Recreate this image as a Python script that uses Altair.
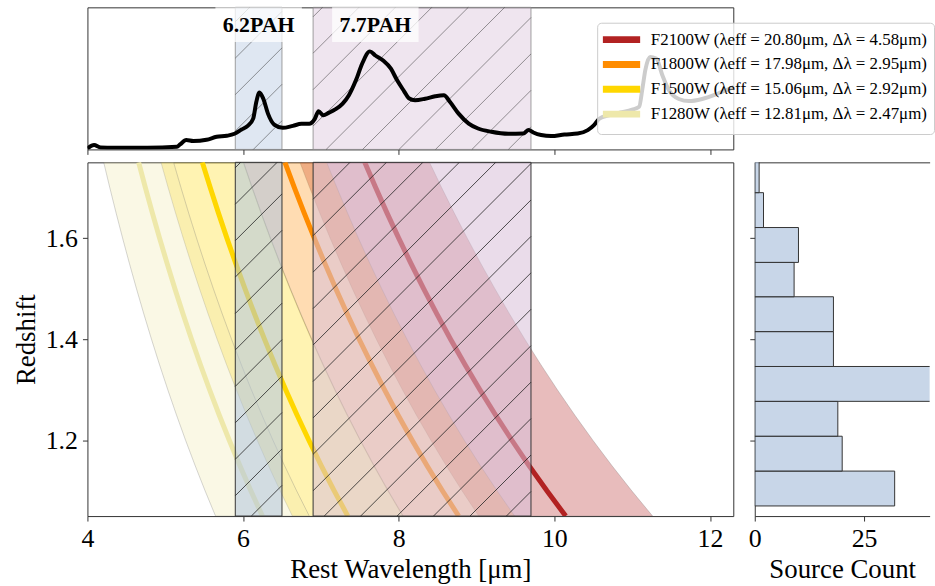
import math
import altair as alt
import pandas as pd

# ---------------- data ----------------
filter_names = ["F2100W", "F1800W", "F1500W", "F1280W"]
lam_eff = [20.80, 17.98, 15.06, 12.81]
dlam = [4.58, 2.95, 2.92, 2.47]
filter_colors = ["#b22222", "#ff8c00", "#ffd700", "#eee8aa"]

z_grid = [1.05, 1.10, 1.15, 1.20, 1.25, 1.30, 1.35, 1.40, 1.45, 1.50,
          1.55, 1.60, 1.65, 1.70, 1.75]

pah_names = ["6.2PAH", "7.7PAH"]
pah_lo = [5.9, 6.9]
pah_hi = [6.5, 9.7]
pah_center = [6.2, 7.7]
pah_colors = ["lightsteelblue", "thistle"]

spec_wave = [4.00, 4.085, 4.17, 4.34, 4.77, 5.15, 5.19, 5.27, 5.36, 5.53, 5.66, 5.79,
             5.89, 5.98, 6.06, 6.13, 6.17, 6.21, 6.26, 6.32, 6.40, 6.51, 6.64, 6.75,
             6.85, 6.92, 6.97, 7.03, 7.10, 7.19, 7.28, 7.36, 7.45, 7.53, 7.63, 7.70,
             7.80, 7.90, 7.98, 8.07, 8.13, 8.21, 8.34, 8.47, 8.58, 8.66, 8.77, 8.90,
             9.02, 9.19, 9.41, 9.60, 9.67, 9.73, 9.83, 9.96, 10.13, 10.30, 10.43, 10.51,
             10.58, 10.70, 10.85, 11.00, 11.09, 11.13, 11.17, 11.23, 11.31, 11.39, 11.47,
             11.60, 11.73, 11.90, 12.09, 12.31]
spec_flux = [0.007, 0.031, 0.014, 0.012, 0.012, 0.019, 0.035, 0.066, 0.059, 0.068, 0.089, 0.096,
             0.110, 0.140, 0.166, 0.217, 0.334, 0.400, 0.357, 0.252, 0.175, 0.152, 0.166, 0.180,
             0.180, 0.213, 0.269, 0.241, 0.257, 0.283, 0.322, 0.381, 0.486, 0.603, 0.690, 0.661,
             0.626, 0.568, 0.486, 0.409, 0.360, 0.346, 0.357, 0.374, 0.381, 0.334, 0.252, 0.182,
             0.147, 0.124, 0.110, 0.112, 0.136, 0.119, 0.101, 0.094, 0.105, 0.112, 0.136, 0.171,
             0.217, 0.240, 0.260, 0.280, 0.300, 0.420, 0.560, 0.650, 0.640, 0.520, 0.420,
             0.355, 0.340, 0.355, 0.390, 0.440]

hist_lo = [1.070, 1.139, 1.208, 1.277, 1.346, 1.415, 1.484, 1.552, 1.621, 1.690]
hist_hi = [1.139, 1.208, 1.277, 1.346, 1.415, 1.484, 1.552, 1.621, 1.690, 1.759]
hist_count = [32, 20, 19, 41, 18, 18, 9, 10, 2, 1]

# ---------------- layout constants ----------------
X_DOM = [4.0, 12.3]
Z_DOM = [1.05, 1.75]
F_DOM = [0.0, 1.0]
W_MAIN, H_MAIN, H_TOP, W_HIST = 650, 356, 143, 176
SERIF = "Liberation Serif"

labels = [f"{n} (λeff = {l:.2f}μm, Δλ = {d:.2f}μm)" for n, l, d in zip(filter_names, lam_eff, dlam)]

rows = []
for lab, le, dl in zip(labels, lam_eff, dlam):
    for z in z_grid:
        rows.append(dict(label=lab, z=z, lam=le / (1 + z),
                         lo=(le - dl / 2) / (1 + z), hi=(le + dl / 2) / (1 + z)))
filt_df = pd.DataFrame(rows)

pah_df = pd.DataFrame(dict(pah=pah_names, lo=pah_lo, hi=pah_hi, center=pah_center))
spec_df = pd.DataFrame(dict(wave=spec_wave, flux=spec_flux))
hist_df = pd.DataFrame(dict(z0=hist_lo, z1=hist_hi, count=hist_count))

# hatch ("/") segments, 45 degrees in pixel space, common phase across the figure
HATCH = 36.67
PHASE = 695.0


def hatch_segments(dom_y, W, H, ox, oy):
    sx = W / (X_DOM[1] - X_DOM[0])
    sy = H / (dom_y[1] - dom_y[0])
    out = []
    for lo, hi in zip(pah_lo, pah_hi):
        X0 = (lo - X_DOM[0]) * sx
        X1 = (hi - X_DOM[0]) * sx
        kmin = math.floor((X0 - PHASE + ox + oy) / HATCH) - 1
        kmax = math.ceil((X1 + H - PHASE + ox + oy) / HATCH) + 1
        for k in range(kmin, kmax + 1):
            c = PHASE + k * HATCH - ox - oy
            xa, xb = max(X0, c - H), min(X1, c)
            if xb - xa > 0.5:
                out.append(dict(hx=X_DOM[0] + xa / sx, hy=dom_y[1] - (c - xa) / sy,
                                hx2=X_DOM[0] + xb / sx, hy2=dom_y[1] - (c - xb) / sy))
    return pd.DataFrame(out)


hatch_main = hatch_segments(Z_DOM, W_MAIN, H_MAIN, 86.7, 160.7)
hatch_top = hatch_segments(F_DOM, W_MAIN, H_TOP, 86.7, 5.0)

xscale = alt.Scale(domain=X_DOM, nice=False, zero=False)
zscale = alt.Scale(domain=Z_DOM, nice=False, zero=False)
fscale = alt.Scale(domain=F_DOM, nice=False, zero=False)
fill_scale = alt.Scale(domain=labels + pah_names, range=filter_colors + pah_colors)

ax_main_x = alt.Axis(values=[4, 6, 8, 10, 12], format="d", title="Rest Wavelength [μm]",
                     domain=False, labelFlush=False)
ax_main_y = alt.Axis(values=[1.2, 1.4, 1.6], format=".1f", title="Redshift", domain=False)
ax_top_x = alt.Axis(values=[4, 6, 8, 10, 12], labels=False, title=None, domain=False)

# ---------------- top panel ----------------
top_regions = alt.Chart(pah_df).mark_rect(fillOpacity=0.4, stroke="#888888", strokeWidth=1,
                                           strokeOpacity=0.8).encode(
    x=alt.X("lo:Q", scale=xscale, axis=ax_top_x),
    x2="hi:Q",
    fill=alt.Fill("pah:N", scale=fill_scale, legend=None),
)
top_hatch = alt.Chart(hatch_top).mark_rule(color="#333333", strokeWidth=1, opacity=0.5).encode(
    x=alt.X("hx:Q", scale=xscale, axis=ax_top_x), x2="hx2:Q",
    y=alt.Y("hy:Q", scale=fscale, axis=None), y2="hy2:Q",
)
box_path = "M-1,-0.402H1V0.402H-1Z"
top_boxes = alt.Chart(pah_df).mark_point(shape=box_path, size=87 * 87, filled=True, fill="white",
                                         opacity=0.75, strokeWidth=0).encode(
    x=alt.X("center:Q", scale=xscale, axis=ax_top_x), y=alt.value(17.5)
)
top_text = alt.Chart(pah_df).mark_text(font=SERIF, fontSize=22, fontWeight="bold",
                                       baseline="alphabetic", align="center", color="black").encode(
    x=alt.X("center:Q", scale=xscale, axis=ax_top_x), y=alt.value(25), text="pah:N"
)
top_line = alt.Chart(spec_df).mark_line(color="black", strokeWidth=4, clip=True,
                                        interpolate="monotone").encode(
    x=alt.X("wave:Q", scale=xscale, axis=ax_top_x),
    y=alt.Y("flux:Q", scale=fscale, axis=None),
)
top = alt.layer(top_regions, top_hatch, top_line, top_boxes, top_text).properties(
    width=W_MAIN, height=H_TOP)

# ---------------- main panel ----------------
bands = alt.Chart(filt_df).mark_area(orient="horizontal", fillOpacity=0.3, stroke="#777777",
                                     strokeOpacity=0.3, strokeWidth=1, clip=True).encode(
    y=alt.Y("z:Q", scale=zscale, axis=ax_main_y),
    x=alt.X("lo:Q", scale=xscale, axis=ax_main_x, stack=False),
    x2="hi:Q",
    fill=alt.Fill("label:N", scale=fill_scale, legend=None),
)
lines = alt.Chart(filt_df).mark_line(strokeWidth=5, clip=True, strokeCap="butt").encode(
    y=alt.Y("z:Q", scale=zscale, axis=ax_main_y),
    x=alt.X("lam:Q", scale=xscale, axis=ax_main_x),
    stroke=alt.Stroke("label:N", scale=alt.Scale(domain=labels, range=filter_colors),
                      legend=alt.Legend(orient="none", legendX=513, legendY=15.5, title=None,
                                        symbolType="M-1.5,0H3.5", symbolSize=225,
                                        symbolStrokeWidth=7, labelFont=SERIF,
                                        labelFontSize=17, labelColor="black", labelLimit=500,
                                        labelOffset=26, rowPadding=-3, padding=6,
                                        fillColor="rgba(255,255,255,0.8)",
                                        strokeColor="#cccccc", cornerRadius=4)),
)
main_regions = alt.Chart(pah_df).mark_rect(fillOpacity=0.55, stroke="#333333", strokeWidth=1).encode(
    x=alt.X("lo:Q", scale=xscale, axis=ax_main_x),
    x2="hi:Q",
    fill=alt.Fill("pah:N", scale=fill_scale, legend=None),
)
main_hatch = alt.Chart(hatch_main).mark_rule(color="#222222", strokeWidth=1, opacity=0.8).encode(
    x=alt.X("hx:Q", scale=xscale, axis=ax_main_x), x2="hx2:Q",
    y=alt.Y("hy:Q", scale=zscale, axis=ax_main_y), y2="hy2:Q",
)
main = alt.layer(bands, lines, main_regions, main_hatch).properties(width=W_MAIN, height=H_MAIN)

# ---------------- histogram ----------------
cscale = alt.Scale(domain=[0, 40], nice=False, zero=False)
hist_bars = alt.Chart(hist_df).mark_rect(clip=True, fill="lightsteelblue", fillOpacity=0.7,
                                         stroke="#333333", strokeWidth=1).encode(
    x=alt.X("count:Q", scale=cscale,
            axis=alt.Axis(orient="bottom", values=[0, 25], format="d", title="Source Count",
                          labelFlush=False, domain=True)),
    x2=alt.X2(datum=0),
    y=alt.Y("z0:Q", scale=zscale,
            axis=alt.Axis(values=[1.2, 1.4, 1.6], labels=False, title=None, domain=True)),
    y2="z1:Q",
)
hist_top = alt.Chart(hist_df).mark_rect(opacity=0).encode(
    x=alt.X("count:Q", scale=cscale,
            axis=alt.Axis(orient="top", labels=False, ticks=False, title=None, domain=True)),
    x2=alt.X2(datum=0),
    y=alt.Y("z0:Q", scale=zscale), y2="z1:Q",
)
hist = alt.layer(hist_bars, hist_top, view=alt.ViewBackground(stroke="transparent")).resolve_axis(
    x="independent").properties(width=W_HIST, height=H_MAIN)

chart = alt.vconcat(
    top,
    alt.hconcat(main, hist, spacing=21.6, bounds="flush"),
    spacing=13, bounds="flush",
).properties(
    padding={"left": 12, "top": 4.5, "right": 0, "bottom": 0},
    background="white",
).configure_view(stroke="#333333", strokeWidth=1).configure_axis(
    labelFont=SERIF, titleFont=SERIF, labelFontSize=26, titleFontSize=27,
    labelColor="black", titleColor="black", tickColor="#333333", domainColor="#333333",
    tickSize=5, labelPadding=5, titlePadding=5, grid=False, titleFontWeight="normal",
)

chart.save("out.html", embed_options={"renderer": "svg", "actions": False})
